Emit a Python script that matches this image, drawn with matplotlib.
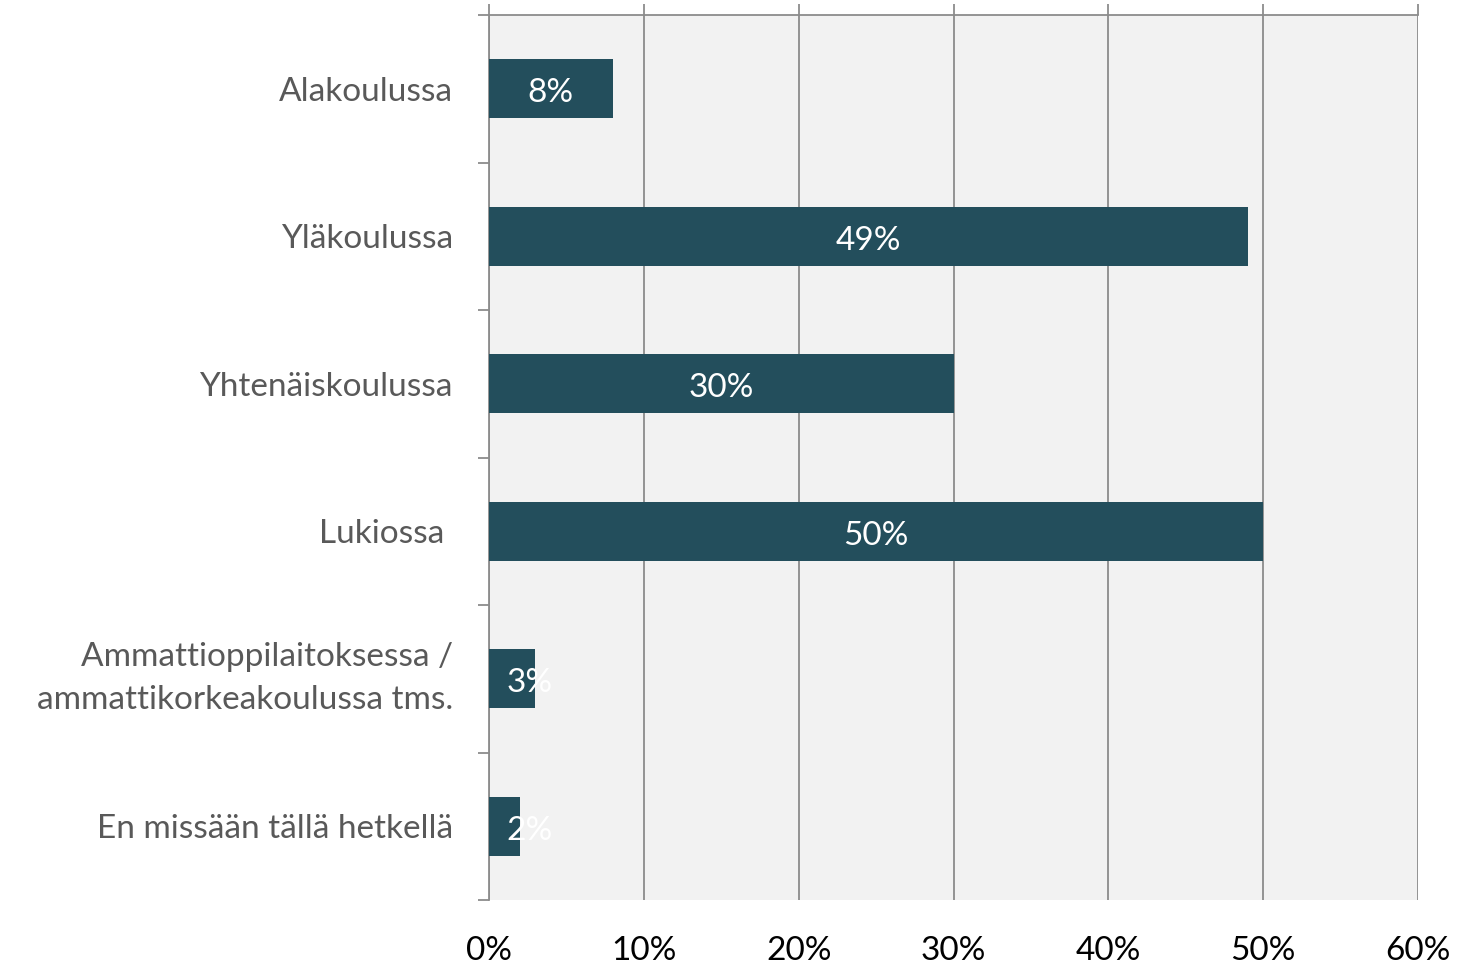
import matplotlib
matplotlib.use("Agg")
import matplotlib.pyplot as plt
from matplotlib.ticker import FixedLocator, FuncFormatter

categories = ["Alakoulussa", "Yläkoulussa", "Yhtenäiskoulussa", "Lukiossa ",
              "Ammattioppilaitoksessa /\nammattikorkeakoulussa tms.", "En missään tällä hetkellä"]
values = [8, 49, 30, 50, 3, 2]
xticks = [0, 10, 20, 30, 40, 50, 60]

plt.rcParams['font.family'] = ['Lato', 'DejaVu Sans']

fig = plt.figure(figsize=(14.76, 9.68), dpi=100)
ax = fig.add_axes([489/1476, 68/968, 929/1476, 885/968])
ax.set_facecolor("#f2f2f2")

bar_color = "#234e5c"
grid_color = "#8c8c8c"
fs = 24
y = list(range(len(categories)))
ax.barh(y, values, height=0.4, color=bar_color, zorder=3)
for yi, v in zip(y, values):
    ax.text(max(v / 2, 2.6), yi + 0.03, f"{v}%", ha="center", va="center",
            color="white", fontsize=fs, zorder=4)

ax.set_xlim(0, 60)
ax.set_ylim(len(categories) - 0.5, -0.5)

ax.xaxis.set_major_locator(FixedLocator(xticks))
ax.xaxis.set_major_formatter(FuncFormatter(lambda v, p: f"{int(v)}%"))
ax.grid(axis="x", color=grid_color, linewidth=1.3, zorder=1)
ax.tick_params(axis="x", top=True, bottom=False, labeltop=False, labelbottom=True,
               direction="out", length=8, width=1.3, color=grid_color,
               labelsize=fs, labelcolor="#000000", pad=18)

ax.set_yticks(y)
ax.set_yticklabels(categories, linespacing=1.55)
for lbl in ax.get_yticklabels():
    if "\n" in lbl.get_text():
        lbl.set_verticalalignment("center")
ax.yaxis.set_minor_locator(FixedLocator([i - 0.5 for i in range(len(categories) + 1)]))
ax.tick_params(axis="y", which="major", length=0, labelsize=fs, labelcolor="#595959", pad=26)
ax.tick_params(axis="y", which="minor", length=8, width=1.3, color=grid_color)

for s in ["right", "bottom"]:
    ax.spines[s].set_visible(False)
for s in ["top", "left"]:
    ax.spines[s].set_color(grid_color)
    ax.spines[s].set_linewidth(1.3)

fig.savefig("out.png", dpi=100)
